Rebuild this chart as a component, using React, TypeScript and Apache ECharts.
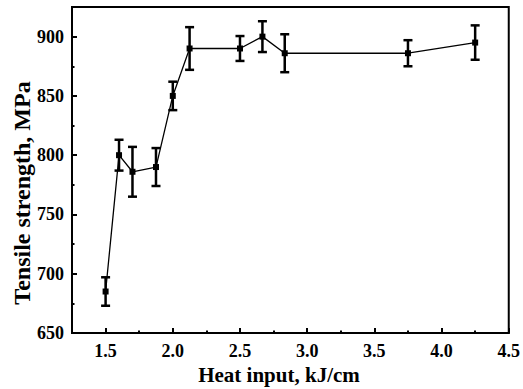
import React, { useEffect, useRef } from "react";
import * as echarts from "echarts";

const heatInput = [1.5, 1.6, 1.7, 1.875, 2.0, 2.125, 2.5, 2.667, 2.833, 3.75, 4.25];
const strength = [685, 800, 786, 790, 850, 890, 890, 900, 886, 886, 895];
const errorBar = [12, 13, 21, 16, 12, 18, 10.5, 13, 16, 11, 14.5];
const xMajor = [1.5, 2.0, 2.5, 3.0, 3.5, 4.0, 4.5];
const xMinor = [1.75, 2.25, 2.75, 3.25, 3.75, 4.25];
const yMajor = [650, 700, 750, 800, 850, 900];
const yMinor = [675, 725, 775, 825, 875];
const xTitle = "Heat input, kJ/cm";
const yTitle = "Tensile strength, MPa";

const FONT = "Liberation Serif";

export default function App() {
  const ref = useRef<HTMLDivElement>(null);
  useEffect(() => {
    if (!ref.current) return;
    const chart = echarts.init(ref.current, undefined, { renderer: "svg" });
    const lineData = heatInput.map((x, i) => [x, strength[i]]);
    const errData = heatInput.map((x, i) => [x, strength[i] - errorBar[i], strength[i] + errorBar[i]]);
    const labelText = {
      color: "#000",
      fontFamily: FONT,
      fontWeight: "bold",
      fontSize: 18,
    };
    chart.setOption({
      animation: false,
      backgroundColor: "#fff",
      textStyle: { fontFamily: FONT, fontWeight: "bold", color: "#000", fontSize: 18 },
      grid: { left: 72, right: 13, top: 7, bottom: 56, show: true, borderColor: "#000", borderWidth: 2 },
      xAxis: [
        {
          type: "value",
          min: 1.25,
          max: 4.5,
          interval: 0.25,
          splitLine: { show: false },
          axisLine: { lineStyle: { color: "#000", width: 2 } },
          axisTick: { inside: true, length: 5, lineStyle: { width: 2, color: "#000" }, customValues: xMajor },
          axisLabel: {
            ...labelText,
            margin: 9,
            showMinLabel: false,
            formatter: (v: number) => (Math.abs(v * 2 - Math.round(v * 2)) < 1e-6 ? v.toFixed(1) : ""),
          },
        },
        {
          type: "value",
          min: 1.25,
          max: 4.5,
          position: "bottom",
          splitLine: { show: false },
          axisLine: { show: false },
          axisLabel: { show: false },
          axisTick: { inside: true, length: 2.5, lineStyle: { width: 2, color: "#000" }, customValues: xMinor },
        },
      ],
      yAxis: [
        {
          type: "value",
          min: 650,
          max: 925,
          interval: 50,
          splitLine: { show: false },
          axisLine: { show: true, lineStyle: { color: "#000", width: 2 } },
          axisTick: { show: true, inside: true, length: 5, lineStyle: { width: 2, color: "#000" }, customValues: yMajor },
          axisLabel: {
            ...labelText,
            margin: 8,
            showMaxLabel: false,
          },
        },
        {
          type: "value",
          min: 650,
          max: 925,
          position: "left",
          splitLine: { show: false },
          axisLine: { show: false },
          axisLabel: { show: false },
          axisTick: { show: true, inside: true, length: 2.5, lineStyle: { width: 2, color: "#000" }, customValues: yMinor },
        },
      ],
      graphic: [
        {
          type: "text",
          x: 279,
          y: 375,
          style: {
            text: xTitle,
            fill: "#000",
            font: `bold 21px ${FONT}`,
            textAlign: "center",
            textVerticalAlign: "middle",
          },
        },
        {
          type: "text",
          x: 22,
          y: 193,
          rotation: Math.PI / 2,
          style: {
            text: yTitle,
            fill: "#000",
            font: `bold 24px ${FONT}`,
            textAlign: "center",
            textVerticalAlign: "middle",
          },
        },
      ],
      series: [
        {
          type: "line",
          data: lineData,
          symbol: "rect",
          symbolSize: 6,
          itemStyle: { color: "#000" },
          lineStyle: { color: "#000", width: 1.3 },
          z: 3,
        },
        {
          type: "custom",
          data: errData,
          encode: { x: 0, y: [1, 2] },
          z: 4,
          renderItem: (params: any, api: any) => {
            const x = api.value(0);
            const lo = api.coord([x, api.value(1)]);
            const hi = api.coord([x, api.value(2)]);
            const hw = 4.5;
            const style = { stroke: "#000", lineWidth: 2.5 };
            return {
              type: "group",
              children: [
                { type: "line", shape: { x1: lo[0], y1: lo[1], x2: hi[0], y2: hi[1] }, style },
                { type: "line", shape: { x1: lo[0] - hw, y1: lo[1], x2: lo[0] + hw, y2: lo[1] }, style },
                { type: "line", shape: { x1: hi[0] - hw, y1: hi[1], x2: hi[0] + hw, y2: hi[1] }, style },
              ],
            };
          },
        },
      ],
    });
    return () => chart.dispose();
  }, []);
  return <div ref={ref} style={{ width: 523, height: 389, position: "absolute", left: 0, top: 0 }} />;
}
